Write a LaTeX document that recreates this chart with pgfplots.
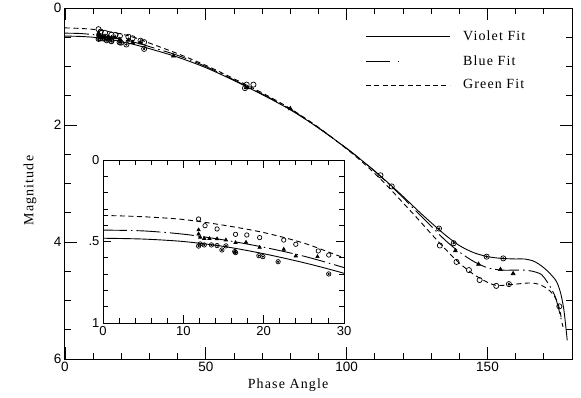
\documentclass[border=0pt]{standalone}
\usepackage{fontspec}
\setmainfont{Liberation Serif}
\newfontfamily\numfont{Liberation Sans}
\newfontfamily\labfont[LetterSpace=8]{Liberation Serif}
\usepackage{pgfplots}
\pgfplotsset{compat=1.18}
\usepackage{pgfplotstable}

% fitted curves (phase angle, magnitude)
\pgfplotstableread{
x y
0 0.48
5 0.485
10 0.50
15 0.53
20 0.575
25 0.63
30 0.695
40 0.84
50 1.02
60 1.24
70 1.48
80 1.74
90 2.05
100 2.40
105 2.59
110 2.79
115 3.00
120 3.22
125 3.45
130 3.67
135 3.88
140 4.06
145 4.18
150 4.25
155 4.28
160 4.29
163 4.29
166 4.32
168 4.37
170 4.44
172 4.53
174 4.64
175 4.73
176 4.88
177 5.12
177.7 5.40
178.3 5.68
}\violetfit

\pgfplotstableread{
x y
0 0.43
5 0.435
10 0.455
15 0.49
20 0.535
25 0.59
30 0.66
40 0.81
50 1.00
60 1.23
70 1.47
80 1.73
90 2.05
100 2.40
105 2.59
110 2.79
115 3.01
120 3.24
125 3.49
130 3.73
135 3.97
140 4.17
145 4.33
150 4.44
155 4.48
160 4.48
163 4.48
166 4.50
168.6 4.54
170 4.60
172.2 4.76
174 4.93
175.1 5.11
176.8 5.45
}\bluefit

\pgfplotstableread{
x y
0 0.34
5 0.348
10 0.365
15 0.40
20 0.445
25 0.51
30 0.60
40 0.78
50 0.98
60 1.21
70 1.45
80 1.72
90 2.04
100 2.41
105 2.61
110 2.83
115 3.07
120 3.33
125 3.59
130 3.86
135 4.12
140 4.36
145 4.55
150 4.69
153 4.74
156 4.74
160 4.72
165 4.70
168 4.72
171 4.79
173 4.88
174.5 4.99
175.5 5.13
176.3 5.33
}\greenfit

% observations
\pgfplotstableread{
x y
11.9 0.528
12.1 0.515
12.6 0.521
13.5 0.521
14.2 0.525
14.8 0.552
15.3 0.527
16.4 0.562
16.5 0.568
19.4 0.587
19.9 0.593
21.8 0.624
28.1 0.699
63.9 1.37
132.8 3.77
138.0 4.02
149.7 4.25
155.6 4.28
157.6 4.72
}\violetobs

\pgfplotstableread{
x y
11.9 0.429
11.9 0.454
12.1 0.474
12.6 0.482
13.25 0.482
14.2 0.484
15.3 0.491
16.5 0.507
17.8 0.505
19.5 0.536
22.5 0.548
24.0 0.589
26.7 0.593
38.5 0.82
64.7 1.36
80 1.72
138.6 4.15
146.8 4.38
154.6 4.47
159.1 4.54
}\blueobs

\pgfplotstableread{
x y
11.9 0.362
12.7 0.403
14.2 0.423
16.5 0.456
17.9 0.460
19.5 0.476
22.5 0.491
24.0 0.517
26.8 0.558
28.1 0.583
64.5 1.31
66.9 1.31
112 2.86
116 3.05
133.1 4.06
139.0 4.34
143.4 4.48
147.2 4.65
153.1 4.75
175.5 5.10
}\greenobs

\pgfplotsset{
  fitline/.style={line width=0.9pt, black, no markers},
  violetline/.style={fitline, solid},
  blueline/.style={fitline, dash pattern=on 24pt off 4pt on 1.5pt off 4pt},
  greenline/.style={fitline, dash pattern=on 5pt off 3.5pt},
  obsmark/.style={only marks, black, mark options={solid, line width=0.7pt}},
}

\begin{document}
\begin{tikzpicture}
\useasboundingbox (-65pt,-38pt) rectangle (516pt,359pt);

\begin{axis}[
  at={(0pt,0pt)}, anchor=south west,
  scale only axis, width=507pt, height=351pt,
  xmin=0, xmax=180, ymin=0, ymax=6, y dir=reverse,
  xtick={0,50,100,150}, minor xtick={10,20,...,170},
  ytick={0,2,4,6}, minor ytick={0.5,1,...,5.5},
  tick align=inside, tick pos=both,
  major tick length=12pt, minor tick length=6pt,
  every tick/.style={black, line width=0.8pt},
  axis line style={line width=1pt},
  /pgf/number format/assume math mode=true,
  tick label style={font=\numfont\fontsize{13.5}{15}\selectfont},
  xlabel={Phase Angle}, ylabel={Magnitude},
  label style={font=\labfont\fontsize{14}{16}\selectfont},
  xlabel style={at={(axis description cs:0.44,-0.075)}, anchor=center},
  ylabel style={at={(axis description cs:-0.069,0.48)}, anchor=center},
  legend style={draw=none, fill=none, at={(axis description cs:0.586,0.94)},
    anchor=north west, row sep=13pt, nodes={inner sep=0pt},
    font=\labfont\fontsize{14}{16}\selectfont,
    /tikz/every odd column/.append style={column sep=13pt}},
  legend cell align=left,
]
\addplot[violetline, smooth, legend image code/.code={\draw[line width=0.9pt] (0pt,0pt) -- (84pt,0pt);}] table {\violetfit};
\addlegendentry{Violet Fit}
\addplot[blueline, smooth, legend image code/.code={\draw[line width=0.9pt] (0pt,0pt) -- (26pt,0pt); \draw[line width=0.9pt] (32pt,0pt) -- (33.5pt,0pt); \path (84pt,0pt);}] table {\bluefit};
\addlegendentry{Blue Fit}
\addplot[greenline, smooth, legend image code/.code={\draw[line width=0.9pt, dash pattern=on 5pt off 3.4pt] (0pt,0pt) -- (84pt,0pt);}] table {\greenfit};
\addlegendentry{Green Fit}

\addplot[obsmark, mark=o, mark size=2.6pt, forget plot] table {\violetobs};
\addplot[obsmark, mark=*, mark size=0.8pt, forget plot] table {\violetobs};
\addplot[obsmark, mark=triangle*, mark size=2.2pt, forget plot] table {\blueobs};
\addplot[obsmark, mark=o, mark size=2.6pt, forget plot] table {\greenobs};
\end{axis}

\begin{axis}[
  at={(38pt,36pt)}, anchor=south west,
  scale only axis, width=241pt, height=163pt,
  xmin=0, xmax=30, ymin=0, ymax=1, y dir=reverse,
  xtick={0,10,20,30}, minor xtick={2,4,...,28},
  ytick={0,0.5,1}, yticklabels={0,.5,1},
  minor ytick={0.1,0.2,0.3,0.4,0.6,0.7,0.8,0.9},
  tick align=inside, tick pos=both,
  major tick length=8pt, minor tick length=5pt,
  every tick/.style={black, line width=0.8pt},
  axis line style={line width=1pt},
  axis background/.style={fill=white},
  /pgf/number format/assume math mode=true,
  tick label style={font=\numfont\fontsize{13}{15}\selectfont},
]
\addplot[violetline, smooth] table {\violetfit};
\addplot[blueline, smooth] table {\bluefit};
\addplot[greenline, smooth] table {\greenfit};
\addplot[obsmark, mark=o, mark size=2.2pt] table {\violetobs};
\addplot[obsmark, mark=*, mark size=0.7pt] table {\violetobs};
\addplot[obsmark, mark=triangle*, mark size=1.9pt] table {\blueobs};
\addplot[obsmark, mark=o, mark size=2.2pt] table {\greenobs};
\end{axis}
\end{tikzpicture}
\end{document}
